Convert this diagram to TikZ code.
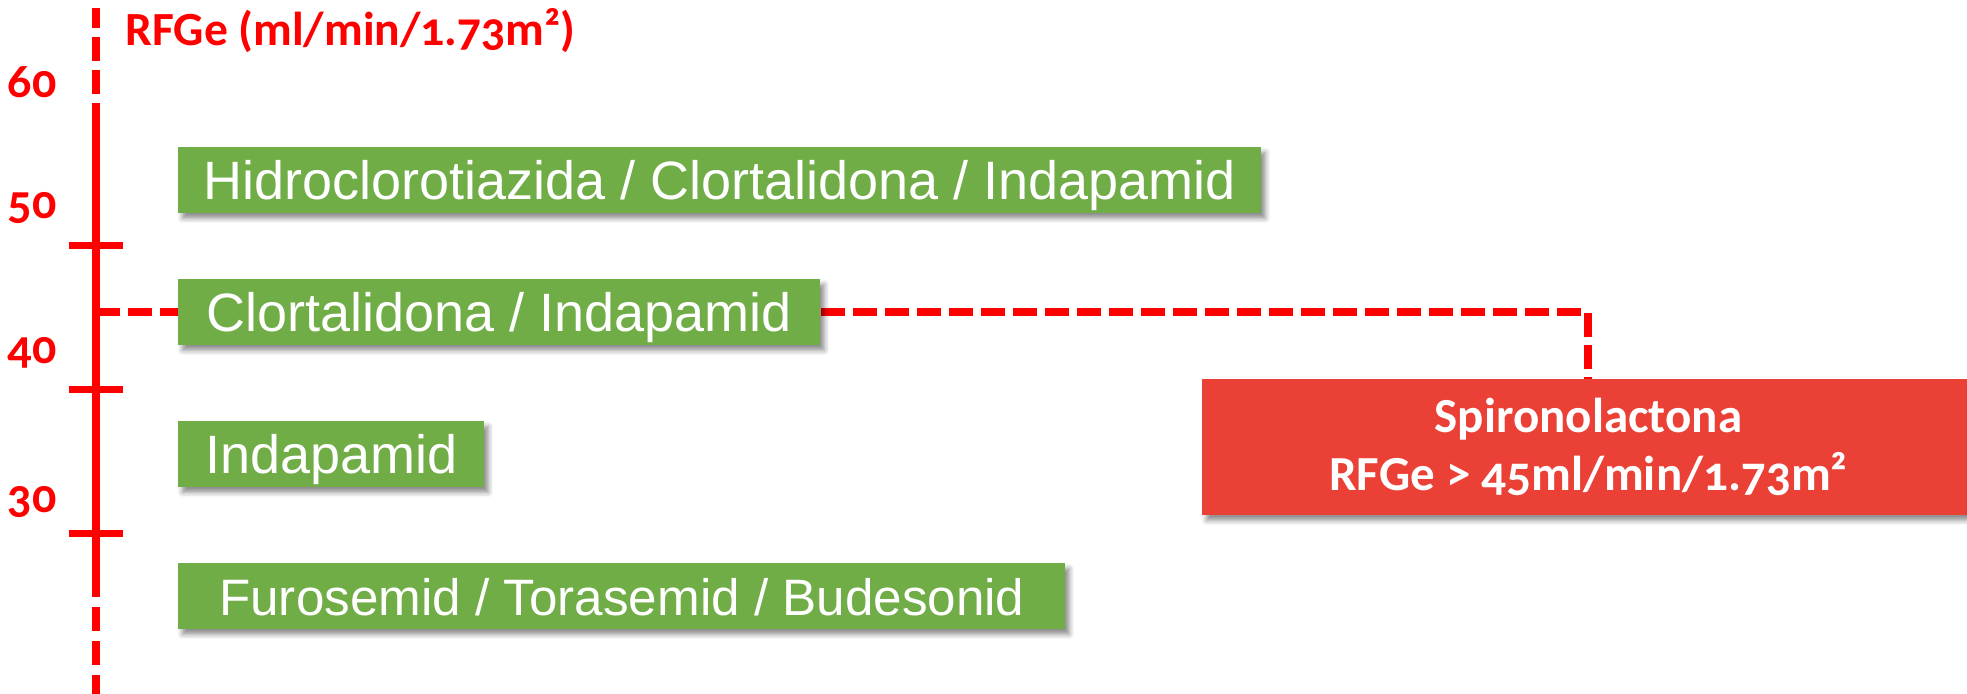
\documentclass[tikz,border=0pt]{standalone}
\usepackage{fontspec}
\setmainfont{Liberation Sans}
\newfontfamily\labelfont[Numbers=OldStyle]{Carlito}
\usetikzlibrary{shadows.blur,backgrounds}
\definecolor{axisred}{HTML}{FF0000}
\definecolor{boxgreen}{HTML}{70AD47}
\definecolor{boxred}{HTML}{EA4036}

\begin{document}
\begin{tikzpicture}[x=0.5pt,y=-0.5pt,
  axisline/.style={draw=axisred, line width=3.75pt},
  tickmark/.style={draw=axisred, line width=3.5pt},
  link/.style={draw=axisred, line width=4pt, dash pattern=on 12pt off 4pt},
  ticklabel/.style={text=axisred, anchor=base, inner sep=0pt,
    font=\labelfont\bfseries\fontsize{24}{26}\selectfont},
  drug/.style={fill=boxgreen, text=white, inner sep=0pt, anchor=north west,
    minimum height=33pt, text height=25pt, text depth=6pt,
    font=\fontsize{27}{30}\selectfont,
    blur shadow={shadow xshift=2pt, shadow yshift=-2.5pt,
      shadow blur radius=2.5pt, shadow opacity=45}},
  spirobox/.style={fill=boxred, text=white, inner sep=0pt, anchor=north west,
    minimum width=386pt, minimum height=68pt, align=center,
    font=\labelfont\bfseries\fontsize{24.5}{29}\selectfont,
    blur shadow={shadow xshift=2pt, shadow yshift=-2.5pt,
      shadow blur radius=2.5pt, shadow opacity=45}}]
\useasboundingbox (0,0) rectangle (1967,693);

% eGFR axis: dashed ends, solid middle
\coordinate (axtop) at (96,8);
\coordinate (solidtop) at (96,103);
\coordinate (solidbot) at (96,597);
\coordinate (axbot) at (96,700);
\draw[axisline] (solidtop) -- (solidbot);
\draw[axisline, dash pattern=on 12pt off 4.5pt, dash phase=12pt] (solidtop) -- (axtop);
\draw[axisline, dash pattern=on 12pt off 5pt, dash phase=12pt] (solidbot) -- (axbot);

% ticks
\foreach \ty/\tn in {245/t50, 389/t40, 533/t30}{
  \coordinate (\tn l) at (69,\ty);
  \coordinate (\tn r) at (123,\ty);
  \draw[tickmark] (\tn l) -- (\tn r);
}

% axis values
\node[ticklabel] (l60) at (32,97) {60};
\node[ticklabel] (l50) at (32,218) {50};
\node[ticklabel] (l40) at (32,363) {40};
\node[ticklabel] (l30) at (32,512) {30};

% axis title
\node[anchor=base west, inner sep=0pt, text=axisred,
  font=\labelfont\bfseries\fontsize{23.8}{26}\selectfont]
  (title) at (125,45) {RFGe (ml/min/1.73m²)};

% diuretic boxes by eGFR range
\node[drug, minimum width=541.5pt] (h1) at (178,147)
  {Hidroclorotiazida / Clortalidona / Indapamid};
\node[drug, minimum width=321pt] (h2) at (178,279) {Clortalidona / Indapamid};
\node[drug, minimum width=153pt] (h3) at (178,421) {Indapamid};
\node[drug, minimum width=443.5pt, font=\fontsize{25.6}{30}\selectfont] (h4)
  at (178,563) {Furosemid / Torasemid / Budesonid};

% spironolactone box
\node[spirobox] (spiro) at (1202,379)
  {Spironolactona\\RFGe > 45ml/min/1.73m²};

% dashed connectors, kept under the boxes
\begin{scope}[on background layer]
\draw[link] (h2.west -| solidtop) -- (h2.west);
\draw[link] (h2.east) -| (spiro.north);
\end{scope}
\end{tikzpicture}
\end{document}
